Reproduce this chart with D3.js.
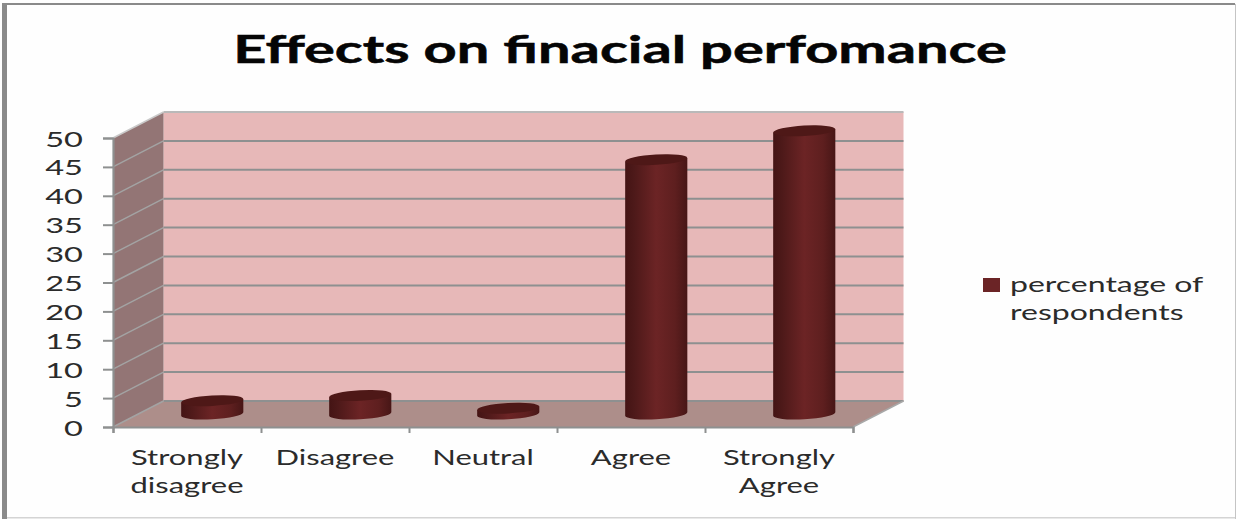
<!DOCTYPE html>
<html>
<head>
<meta charset="utf-8">
<script src="https://cdn.jsdelivr.net/npm/d3@7/dist/d3.min.js"></script>
<style>
html,body{margin:0;padding:0;background:#fff}
svg{display:block}
text{font-family:Lato,"Open Sans",sans-serif}
</style>
</head>
<body>
<svg id="chart" width="1236" height="519"></svg>
<script>
const chartTitle = "Effects on finacial perfomance";
const categories = ["Strongly disagree", "Disagree", "Neutral", "Agree", "Strongly Agree"];
const categoryLines = [["Strongly", "disagree"], ["Disagree"], ["Neutral"], ["Agree"], ["Strongly", "Agree"]];
const seriesName = ["percentage of", "respondents"];
const values = [2.3, 3.2, 1, 44, 49];
const yTicks = [0, 5, 10, 15, 20, 25, 30, 35, 40, 45, 50];

const svg = d3.select("#chart");
const W = 1236, H = 519;
const front = {left: 113, right: 853, bottom: 427, top: 138};
const depth = {dx: 50.5, dy: 26};

const x = d3.scaleBand().domain(categories).range([front.left, front.right]);
const y = d3.scaleLinear().domain([0, 50]).range([front.bottom, front.top]);
const lineGray = "#8e9090";

// Outer frame: heavy on the top and left, faint on the other two sides
svg.append("rect").attr("width", W).attr("height", H).attr("fill", "#fefefe");
svg.append("rect").attr("x", 2).attr("y", 3).attr("width", 5).attr("height", H - 3).attr("fill", "#8a8a8a");
svg.append("rect").attr("x", 2).attr("y", 3).attr("width", W - 3).attr("height", 2).attr("fill", "#8a8a8a");
svg.append("rect").attr("x", 7).attr("y", 517).attr("width", W - 8).attr("height", 1.5).attr("fill", "#d4d4d4");
svg.append("rect").attr("x", 1235).attr("y", 4).attr("width", 1).attr("height", H - 4).attr("fill", "#c4c4c4");

// Title, widened to the banner proportions
svg.append("text")
  .attr("transform", "translate(620,63) scale(1.52,1)")
  .attr("text-anchor", "middle")
  .attr("font-size", 38).attr("font-weight", 700).attr("fill", "#050505")
  .attr("stroke", "#050505").attr("stroke-width", 0.5)
  .text(chartTitle);

// Back wall, side wall and floor of the 3-D box
const pts = a => a.map(p => p.join(",")).join(" ");
const backTop = y(50) - depth.dy, backBottom = y(0) - depth.dy;
const backLeft = front.left + depth.dx, backRight = front.right + depth.dx;
svg.append("polygon").attr("fill", "#e7b8b8")
  .attr("points", pts([[backLeft, backTop], [backRight, backTop], [backRight, backBottom], [backLeft, backBottom]]));
svg.append("polygon").attr("fill", "#937575")
  .attr("points", pts([[front.left, y(50)], [backLeft, backTop], [backLeft, backBottom], [front.left, y(0)]]));
svg.append("polygon").attr("fill", "#ad8e8a")
  .attr("points", pts([[front.left, y(0)], [front.right, y(0)], [backRight, backBottom], [backLeft, backBottom]]));

// Gridlines run across the back wall and slant along the side wall
const grid = svg.append("g").attr("fill", "none");
grid.selectAll("line.back").data(yTicks).join("line").attr("class", "back")
  .attr("x1", backLeft).attr("x2", backRight)
  .attr("y1", d => y(d) - depth.dy).attr("y2", d => y(d) - depth.dy)
  .attr("stroke", d => d === 50 ? "#b9b9b9" : lineGray).attr("stroke-width", 2);
grid.selectAll("line.side").data(yTicks).join("line").attr("class", "side")
  .attr("x1", front.left).attr("x2", backLeft)
  .attr("y1", d => y(d)).attr("y2", d => y(d) - depth.dy)
  .attr("stroke", d => d === 50 ? "#c9c9c9" : "#a3a3a3").attr("stroke-width", 1.5);
svg.append("line").attr("x1", front.right).attr("x2", backRight)
  .attr("y1", y(0)).attr("y2", backBottom)
  .attr("stroke", "#a8a8a8").attr("stroke-width", 1.5);

// Cylinders stand halfway into the box
const defs = svg.append("defs");
const grad = defs.append("linearGradient").attr("id", "cylinderShade");
[[0, "#441414"], [0.14, "#4d1919"], [0.5, "#6c2425"], [0.8, "#5e1f1f"], [1, "#471616"]]
  .forEach(([o, c]) => grad.append("stop").attr("offset", o).attr("stop-color", c));

const rx = x.bandwidth() * 0.21, ry = 5.2, tilt = 1.7, tiltDeg = -3.2;
const bars = svg.append("g").selectAll("g").data(categories.map((c, i) => ({c, v: values[i]}))).join("g")
  .attr("transform", d => `translate(${x(d.c) + x.bandwidth() / 2 + depth.dx / 2},${y(0) - depth.dy / 2})`);
bars.append("path").attr("fill", "url(#cylinderShade)")
  .attr("d", d => {
    const h = y(0) - y(d.v);
    return `M${-rx},${-h + tilt}L${-rx},${tilt}A${rx},${ry} ${tiltDeg} 0 0 ${rx},${-tilt}L${rx},${-h - tilt}Z`;
  });
bars.append("ellipse").attr("fill", "#4e1817")
  .attr("rx", rx).attr("ry", ry)
  .attr("transform", d => `translate(0,${y(d.v) - y(0)}) rotate(${tiltDeg})`);

// Axes, with tick labels widened to the same proportion as the rest of the type
const yAxis = svg.append("g").attr("transform", `translate(${front.left},0)`)
  .call(d3.axisLeft(y).tickValues(yTicks).tickSize(10).tickPadding(0));
const xAxis = svg.append("g").attr("transform", `translate(0,${front.bottom})`)
  .call(d3.axisBottom(d3.scalePoint().domain(d3.range(categories.length + 1)).range([front.left, front.right]))
    .tickSize(6).tickFormat(""));
[yAxis, xAxis].forEach(a => {
  a.selectAll("path.domain").attr("stroke", lineGray).attr("stroke-width", 2.2);
  a.selectAll(".tick line").attr("stroke", lineGray).attr("stroke-width", 2);
});
yAxis.selectAll("text")
  .attr("x", null).attr("dy", null)
  .attr("transform", "translate(-30,8) scale(1.55,1)")
  .attr("text-anchor", "end")
  .attr("font-size", 21).attr("fill", "#2b2b2b")
  .style("font-family", "Lato");

// Category labels, wrapped onto two lines where needed
svg.append("g").selectAll("g").data(categories.map((c, i) => ({c, lines: categoryLines[i]}))).join("g")
  .attr("transform", d => `translate(${x(d.c) + x.bandwidth() / 2},${front.bottom})`)
  .selectAll("text").data(d => d.lines).join("text")
  .attr("transform", (d, i) => `translate(0,${38 + i * 28}) scale(1.44,1)`)
  .attr("text-anchor", "middle").attr("font-size", 21.5).attr("fill", "#2b2b2b")
  .text(d => d);

// Legend
svg.append("rect").attr("x", 983).attr("y", 278).attr("width", 17).attr("height", 14).attr("fill", "#6b2426");
svg.append("g").selectAll("text").data(seriesName).join("text")
  .attr("transform", (d, i) => `translate(1010,${292 + i * 28}) scale(1.49,1)`)
  .attr("font-size", 21.5).attr("fill", "#2b2b2b")
  .text(d => d);
</script>
</body>
</html>
